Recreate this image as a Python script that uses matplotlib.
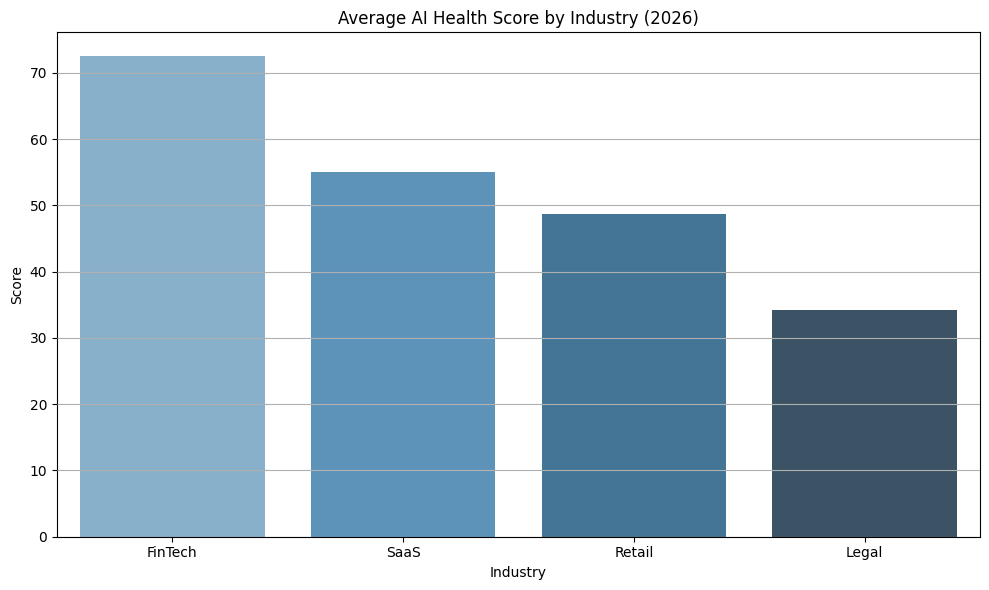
import matplotlib
matplotlib.use("Agg")
import matplotlib.pyplot as plt
import seaborn as sns
import pandas as pd

industries = ["FinTech", "SaaS", "Retail", "Legal"]
scores = [72.5, 55.1, 48.7, 34.2]

df = pd.DataFrame({"Industry": industries, "Score": scores})

fig, ax = plt.subplots(figsize=(10, 6), dpi=100)
sns.barplot(data=df, x="Industry", y="Score", hue="Industry",
            palette="Blues_d", legend=False, ax=ax)
ax.set_title("Average AI Health Score by Industry (2026)")
ax.set_xlabel("Industry")
ax.set_ylabel("Score")
ax.grid(axis="y")
ax.set_axisbelow(False)
plt.tight_layout()
plt.savefig("out.png", dpi=100, bbox_inches="tight")
